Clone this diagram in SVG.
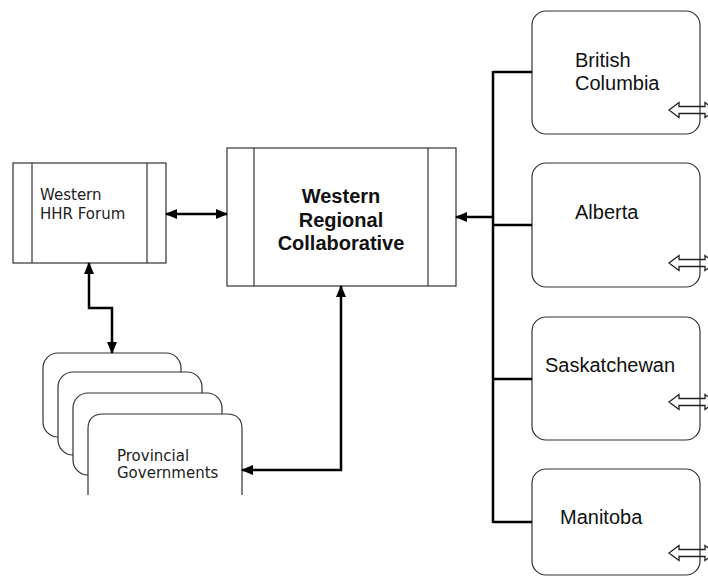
<svg xmlns="http://www.w3.org/2000/svg" width="708" height="576" viewBox="0 0 708 576">
<style>
.box{fill:#fff;stroke:#333;stroke-width:1.2}
.in{stroke:#333;stroke-width:1.2;fill:none}
.con{fill:none;stroke:#000;stroke-width:2.5}
.ba{fill:none;stroke:#222;stroke-width:1.3}
.v{font-family:"DejaVu Sans",Verdana,sans-serif;font-size:15px;fill:#222}
.a{font-family:"Liberation Sans",Arial,sans-serif;font-size:20px;fill:#111}
.b{font-family:"Liberation Sans",Arial,sans-serif;font-size:20px;font-weight:bold;fill:#111;text-anchor:middle}
</style>
<defs>
<marker id="ah" viewBox="0 0 12 10" refX="11" refY="5" markerWidth="12" markerHeight="10" markerUnits="userSpaceOnUse" orient="auto-start-reverse">
<path d="M0,0 L12,5 L0,10 z" fill="#000"/>
</marker>
</defs>
<rect width="708" height="576" fill="#fff"/>

<g id="hhr-forum">
<rect class="box" x="13" y="163" width="153" height="100"/>
<line class="in" x1="32" y1="163" x2="32" y2="263"/>
<line class="in" x1="147" y1="163" x2="147" y2="263"/>
<text class="v" x="40" y="200">Western</text>
<text class="v" x="40" y="219">HHR Forum</text>
</g>

<g id="wrc">
<rect class="box" x="227" y="148" width="229" height="138"/>
<line class="in" x1="254" y1="148" x2="254" y2="286"/>
<line class="in" x1="428" y1="148" x2="428" y2="286"/>
<text class="b" x="341" y="203">Western</text>
<text class="b" x="341" y="227">Regional</text>
<text class="b" x="341" y="250">Collaborative</text>
</g>

<g id="provincial-governments">
<rect class="box" x="43" y="353" width="138" height="84" rx="15"/>
<rect class="box" x="58" y="372" width="144" height="83" rx="15"/>
<rect class="box" x="73" y="393" width="149" height="82" rx="15"/>
<path d="M88,495 L88,429 Q88,414 103,414 L227,414 Q242,414 242,429 L242,495 Z" fill="#fff" stroke="none"/>
<path d="M88,495 L88,429 Q88,414 103,414 L227,414 Q242,414 242,429 L242,495" class="ba" style="stroke:#333;stroke-width:1.2"/>
<text class="v" x="117" y="461">Provincial</text>
<text class="v" x="117" y="478">Governments</text>
</g>

<g id="british-columbia">
<rect class="box" x="532" y="11" width="168" height="123" rx="14"/>
<text class="a" x="575" y="67">British</text>
<text class="a" x="575" y="90">Columbia</text>
<path class="ba" d="M669,110 L679,102.5 L679,106.5 L705,106.5 L705,102.5 L715,110 L705,117.5 L705,113.5 L679,113.5 L679,117.5 Z"/>
</g>

<g id="alberta">
<rect class="box" x="532" y="163" width="168" height="124" rx="14"/>
<text class="a" x="575" y="219">Alberta</text>
<path class="ba" d="M669,263 L679,255.5 L679,259.5 L705,259.5 L705,255.5 L715,263 L705,270.5 L705,266.5 L679,266.5 L679,270.5 Z"/>
</g>

<g id="saskatchewan">
<rect class="box" x="532" y="317" width="168" height="123" rx="14"/>
<text class="a" x="545" y="372">Saskatchewan</text>
<path class="ba" d="M669,402 L679,394.5 L679,398.5 L705,398.5 L705,394.5 L715,402 L705,409.5 L705,405.5 L679,405.5 L679,409.5 Z"/>
</g>

<g id="manitoba">
<rect class="box" x="532" y="469" width="168" height="106" rx="14"/>
<text class="a" x="560" y="524">Manitoba</text>
<path class="ba" d="M669,553 L679,545.5 L679,549.5 L705,549.5 L705,545.5 L715,553 L705,560.5 L705,556.5 L679,556.5 L679,560.5 Z"/>
</g>

<g id="connectors">
<path class="con" d="M166,214 L227,214" marker-start="url(#ah)" marker-end="url(#ah)"/>
<path class="con" d="M89,263 L89,308 L112,308 L112,353" marker-start="url(#ah)" marker-end="url(#ah)"/>
<path class="con" d="M341,286 L341,470 L242,470" marker-start="url(#ah)" marker-end="url(#ah)"/>
<path class="con" d="M493,217 L456,217" marker-end="url(#ah)"/>
<path class="con" d="M493,71 L493,523"/>
<path class="con" d="M493,72 L532,72 M493,225 L532,225 M493,379 L532,379 M493,522 L532,522"/>
</g>
</svg>
